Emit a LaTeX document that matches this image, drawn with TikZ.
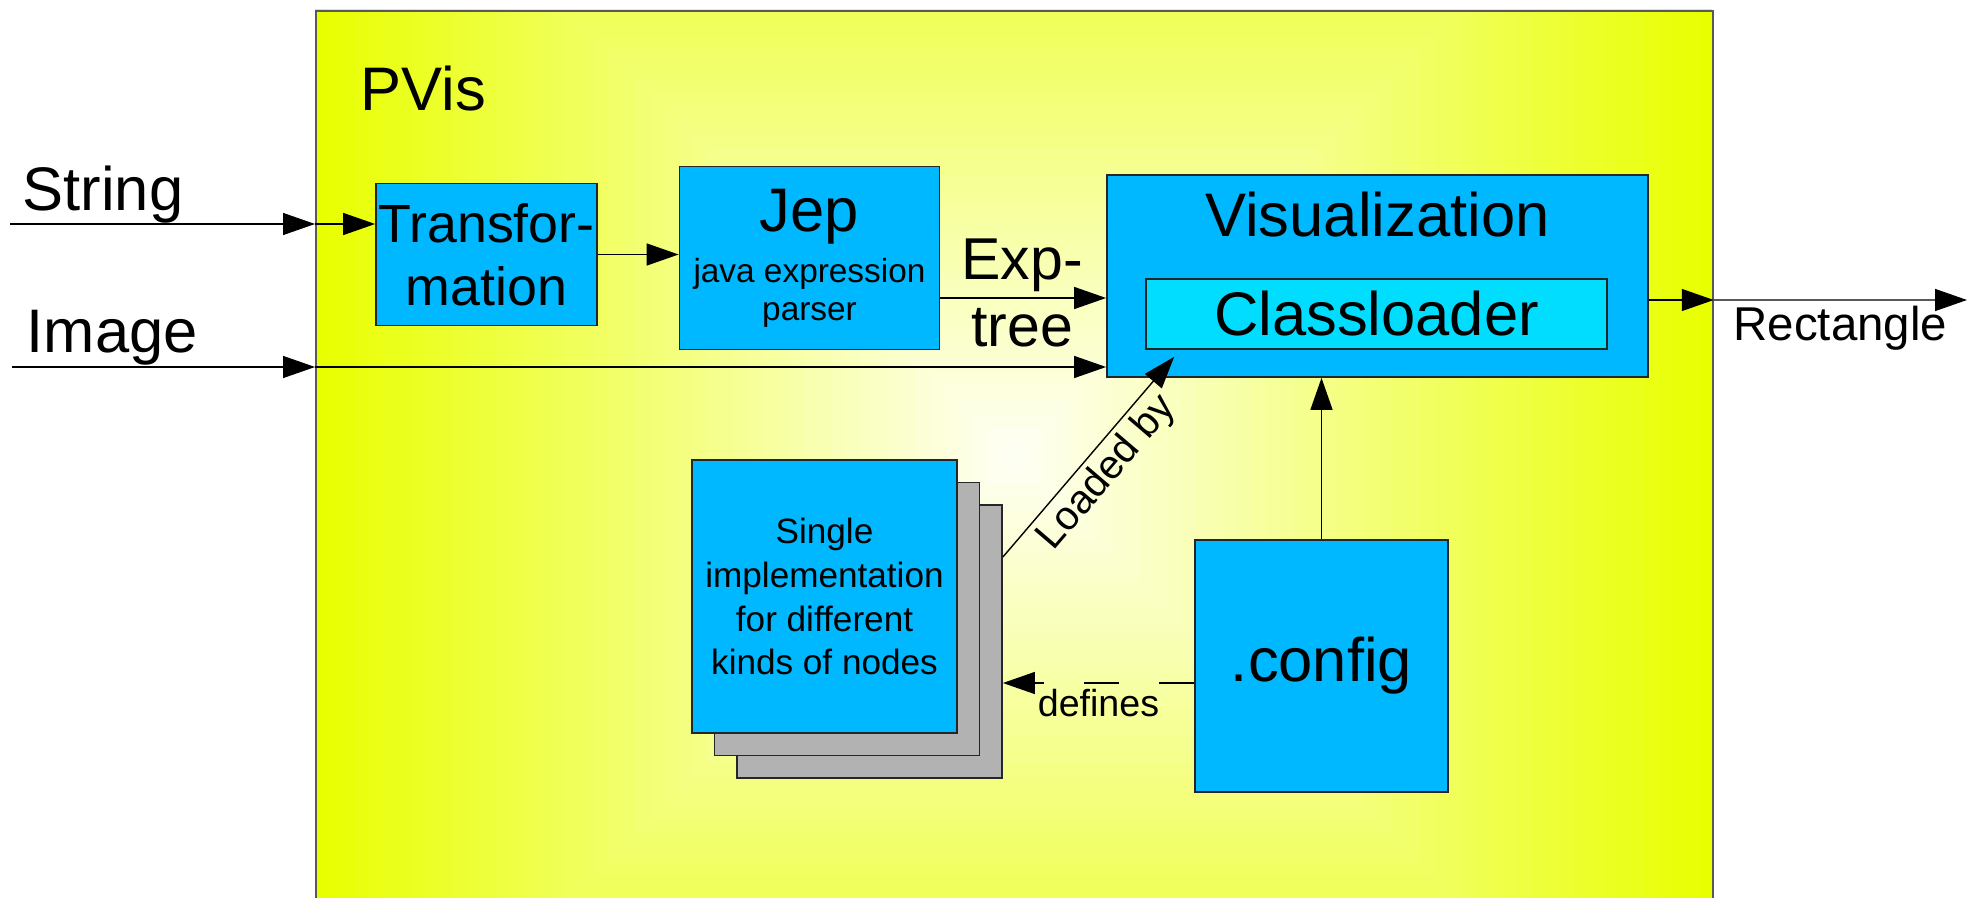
\documentclass[tikz,border=0pt]{standalone}
\usepackage{fontspec}
\setmainfont{Liberation Sans}
\usepackage{xcolor}
\definecolor{pvyellow}{RGB}{232,255,0}
\definecolor{pvlight}{RGB}{255,255,248}
\definecolor{boxblue}{RGB}{0,184,255}
\definecolor{cyanbox}{RGB}{0,221,255}
\definecolor{layergray}{RGB}{178,178,178}
\usetikzlibrary{arrows.meta,positioning}
\tikzset{>={Triangle[length=3.2mm,width=2.2mm]}}
\tikzstyle{block} = [draw=black!85, fill=boxblue, line width=0.5pt, inner sep=0pt, align=center]
\tikzstyle{layer} = [draw=black!85, fill=layergray, line width=0.5pt, minimum width=2.65cm, minimum height=2.73cm]
\tikzstyle{txt} = [inner sep=0pt, anchor=base west]
\tikzstyle{big} = [font=\fontsize{17.5}{21}\selectfont]

\begin{document}
\begin{tikzpicture}[line width=0.4pt]
    \useasboundingbox (0,0) rectangle (19.77,-8.98);
    % square gradient of the PVis frame
    \begin{scope}
        \clip (3.15,-0.10) rectangle (17.12,-9.02);
        \foreach \k [evaluate=\k as \half using 7*(1-\k/50), evaluate=\k as \pct using 100*(1-\k/50)] in {0,...,50}
            \fill[pvyellow!\pct!pvlight] (10.135-\half,-4.56-\half) rectangle (10.135+\half,-4.56+\half);
    \end{scope}
    \node[draw=black!65, line width=0.5pt, minimum width=13.97cm, minimum height=8.92cm, inner sep=0pt, anchor=north west] (pvis) at (3.15,-0.10) {};
    \node[txt, big] (title) at (3.60,-1.11) {PVis};

    \node[block, minimum width=2.21cm, minimum height=1.42cm, font=\fontsize{15.3}{17.9}\selectfont] (trans) at (4.865,-2.545) {Transfor-\\mation};
    \node[block, minimum width=2.60cm, minimum height=1.83cm, font=\fontsize{9.5}{10.2}\selectfont] (jep) at (8.095,-2.58) {{\fontsize{17.5}{21}\selectfont Jep}\\[3pt]java expression\\[0.5pt]parser};
    \node[block, minimum width=5.41cm, minimum height=2.02cm] (vis) at (13.775,-2.76) {};
    \node[big, inner sep=0pt, below=0.17cm of vis.north] (vistitle) {Visualization};
    \node[block, big, fill=cyanbox, minimum width=4.61cm, minimum height=0.70cm] (cl) at (13.765,-3.14) {Classloader};
    \node[block, big, minimum width=2.53cm, minimum height=2.52cm] (cfg) at (13.215,-6.66) {.config};

    \foreach \id in {2,1}
        \node[layer] (impl\id) at ({8.245+0.225*\id},{-5.965-0.225*\id}) {};
    \node[block, minimum width=2.65cm, minimum height=2.73cm, font=\fontsize{10}{12.5}\selectfont] (impl) at (8.245,-5.965) {Single\\implementation\\for different\\kinds of nodes};

    \node[txt, big] (strlbl) at (0.22,-2.11) {String};
    \node[txt, big] (imglbl) at (0.26,-3.53) {Image};
    \coordinate (strin) at (0.10,-2.24);
    \coordinate (imgin) at (0.12,-3.67);
    \draw[->] (strin) -- (strin -| pvis.west);
    \draw[->] (strin -| pvis.west) -- (strin -| trans.west);
    \draw[->] (imgin) -- (imgin -| pvis.west);
    \draw[->] (imgin -| pvis.west) -- (imgin -| vis.west);
    \draw[->] (trans.east) -- (trans.east -| jep.west);
    \draw[->] ([yshift=-0.4cm]jep.east) coordinate (expout) -- (expout -| vis.west);
    \node[inner sep=0pt, anchor=base, font=\fontsize{16.8}{20}\selectfont] (explbl) at (10.22,-2.80) {Exp-};
    \node[inner sep=0pt, anchor=base, font=\fontsize{16.8}{20}\selectfont] (treelbl) at (10.22,-3.47) {tree};

    \coordinate (visout) at ([yshift=-0.24cm]vis.east);
    \coordinate (rectout) at (19.67,-3.00);
    \draw[->] (visout) -- (visout -| pvis.east);
    \draw[->] (visout -| pvis.east) -- (rectout) node[midway, below, inner sep=1.5pt, font=\fontsize{13.5}{16}\selectfont] {Rectangle};

    \draw[->] (cfg.north) -- (cfg.north |- vis.south);
    \draw[->, dash pattern=on 0.35cm off 0.40cm] ([yshift=-0.17cm]cfg.west) coordinate (defout) -- (defout -| impl2.east) node[midway, below, inner sep=1.5pt, font=\fontsize{10.7}{13}\selectfont] {defines};
    \draw[->] ([yshift=0.845cm]impl2.east) -- ([xshift=0.29cm,yshift=-0.07cm]cl.south west) node[midway, sloped, below, inner sep=1.5pt, font=\fontsize{11.5}{14}\selectfont] {Loaded by};
\end{tikzpicture}
\end{document}
